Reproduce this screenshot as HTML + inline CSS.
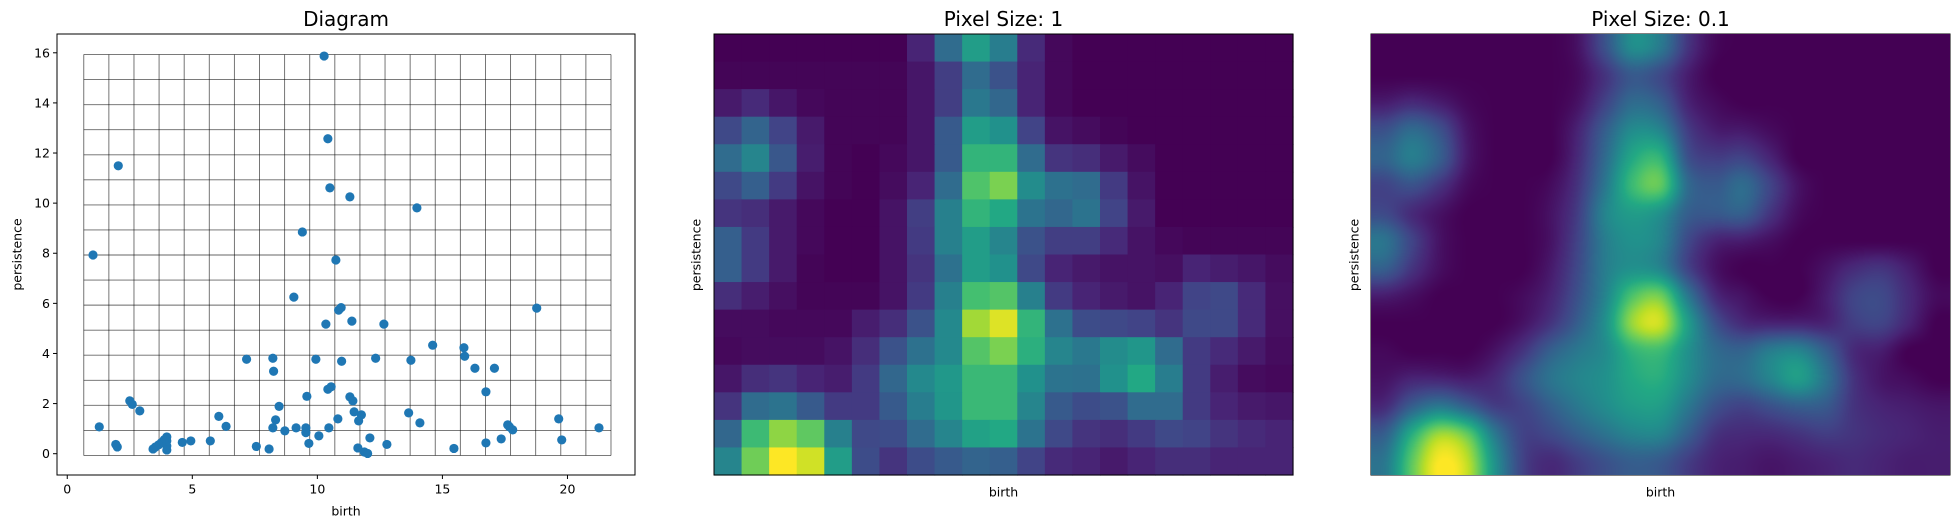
<!DOCTYPE html>
<html><head><meta charset="utf-8">
<style>
html,body{margin:0;padding:0;background:#fff;}
body{width:1952px;height:527px;overflow:hidden;position:relative;font-family:"DejaVu Sans","Liberation Sans",sans-serif;}
svg{position:absolute;left:0;top:0;}
canvas{position:absolute;}
</style></head>
<body>
<svg id="s" width="1952" height="527"></svg>
<canvas id="kde" width="579" height="441" style="left:1371px;top:34px"></canvas>
<script>
// ---- scatter data (birth, persistence) ----
const births = [10.27,10.42,2.04,10.5,11.3,13.98,9.4,1.03,10.74,9.06,10.85,10.95,18.77,10.34,11.38,12.66,14.61,15.86,15.89,7.17,8.22,8.25,9.94,10.97,12.33,13.74,16.3,17.08,16.74,10.42,10.55,9.58,11.3,11.42,2.5,2.6,2.9,8.47,6.06,8.33,10.82,11.47,11.76,11.65,13.65,14.1,19.65,1.28,6.35,8.22,8.7,9.15,9.54,9.54,10.46,10.06,17.61,17.68,17.81,21.26,12.1,17.35,19.77,9.66,12.78,16.74,5.72,4.94,4.6,3.98,3.98,3.98,3.98,3.88,3.76,3.65,3.53,3.43,1.94,2.0,7.56,8.07,11.62,11.88,12.01,15.46];
const persistences = [15.87,12.57,11.49,10.61,10.25,9.81,8.85,7.93,7.73,6.25,5.73,5.83,5.81,5.17,5.29,5.17,4.33,4.23,3.89,3.77,3.81,3.29,3.77,3.69,3.81,3.73,3.41,3.41,2.47,2.57,2.67,2.29,2.27,2.11,2.11,1.97,1.71,1.89,1.49,1.35,1.39,1.67,1.55,1.31,1.63,1.23,1.39,1.07,1.09,1.03,0.91,1.03,1.03,0.84,1.03,0.71,1.15,1.07,0.95,1.03,0.63,0.59,0.55,0.41,0.37,0.43,0.51,0.51,0.45,0.67,0.51,0.31,0.15,0.56,0.44,0.35,0.27,0.19,0.37,0.27,0.29,0.19,0.23,0.07,0.01,0.21];
const xTicks = [0,5,10,15,20];
const yTicks = [0,2,4,6,8,10,12,14,16];
// ---- pixel size 1 image (rows top->bottom, 21 cols) ----
const pixelRows = [
[0,0,0,0,0,0,0,0.1,0.35,0.55,0.42,0.12,0.02,0,0,0,0,0,0,0,0],
[0.01,0.01,0.01,0.01,0.01,0.01,0.01,0.06,0.18,0.35,0.25,0.1,0.02,0,0,0,0,0,0,0,0],
[0.07,0.12,0.06,0.02,0.01,0.01,0.01,0.06,0.18,0.4,0.33,0.1,0.02,0,0,0,0,0,0,0,0],
[0.22,0.32,0.2,0.07,0.01,0.01,0.01,0.06,0.28,0.55,0.5,0.2,0.05,0.03,0.01,0,0,0,0,0,0],
[0.35,0.45,0.27,0.08,0.01,0,0.02,0.06,0.28,0.65,0.65,0.35,0.15,0.13,0.07,0.03,0,0,0,0,0],
[0.22,0.3,0.17,0.05,0.01,0,0.03,0.1,0.35,0.72,0.8,0.48,0.37,0.35,0.17,0.05,0,0,0,0,0],
[0.15,0.13,0.07,0.02,0,0,0.05,0.18,0.43,0.65,0.6,0.38,0.33,0.38,0.2,0.07,0,0,0,0,0],
[0.3,0.17,0.07,0.02,0,0,0.05,0.17,0.43,0.55,0.45,0.25,0.18,0.18,0.12,0.05,0.02,0.01,0.01,0.01,0.01],
[0.3,0.17,0.07,0.01,0,0,0.05,0.15,0.37,0.55,0.5,0.22,0.1,0.07,0.05,0.05,0.04,0.1,0.08,0.06,0.03],
[0.13,0.08,0.04,0.01,0.01,0.01,0.05,0.17,0.43,0.7,0.73,0.43,0.17,0.1,0.07,0.05,0.1,0.2,0.22,0.12,0.04],
[0.03,0.03,0.02,0.02,0.02,0.08,0.13,0.25,0.47,0.86,0.95,0.65,0.37,0.23,0.22,0.2,0.15,0.22,0.22,0.12,0.04],
[0.02,0.03,0.03,0.03,0.05,0.13,0.25,0.37,0.47,0.73,0.8,0.63,0.45,0.4,0.48,0.52,0.35,0.17,0.12,0.07,0.03],
[0.06,0.13,0.15,0.1,0.08,0.17,0.33,0.47,0.53,0.67,0.67,0.5,0.38,0.37,0.5,0.6,0.42,0.17,0.08,0.03,0.02],
[0.15,0.35,0.38,0.28,0.17,0.17,0.28,0.42,0.52,0.67,0.67,0.45,0.28,0.23,0.25,0.35,0.35,0.17,0.1,0.07,0.06],
[0.33,0.68,0.83,0.75,0.43,0.22,0.23,0.35,0.45,0.57,0.6,0.38,0.22,0.15,0.13,0.17,0.22,0.2,0.15,0.12,0.1],
[0.45,0.78,1.0,0.93,0.55,0.23,0.15,0.23,0.28,0.32,0.3,0.2,0.12,0.1,0.07,0.1,0.13,0.13,0.1,0.1,0.1]
];
// ---- pixel size 0.1 image, sampled coarsely (rows top->bottom, 21 cols), smoothed on render ----
const fineRows = [
[0,0,0,0,0,0,0,0.05,0.25,0.48,0.4,0.15,0.02,0,0,0,0,0,0,0,0],
[0,0,0,0,0,0,0,0.03,0.15,0.28,0.22,0.08,0,0,0,0,0,0,0,0,0],
[0.08,0.12,0.08,0.02,0,0,0,0.05,0.2,0.35,0.3,0.1,0.03,0,0,0,0,0,0,0,0],
[0.25,0.35,0.25,0.06,0,0,0,0.1,0.3,0.48,0.45,0.18,0.08,0.07,0.03,0,0,0,0,0,0],
[0.32,0.42,0.3,0.07,0,0,0,0.12,0.35,0.6,0.65,0.25,0.18,0.2,0.1,0,0,0,0,0,0],
[0.2,0.25,0.15,0.03,0,0,0.03,0.15,0.4,0.68,0.75,0.35,0.28,0.35,0.2,0.05,0,0,0,0,0],
[0.22,0.12,0.05,0,0,0,0.05,0.18,0.45,0.55,0.5,0.3,0.28,0.3,0.15,0.03,0,0,0,0,0],
[0.38,0.2,0.05,0,0,0,0.05,0.2,0.42,0.5,0.45,0.22,0.1,0.08,0.04,0,0,0,0,0,0],
[0.3,0.15,0.04,0,0,0,0.07,0.22,0.42,0.5,0.45,0.2,0.05,0,0,0,0.05,0.12,0.15,0.08,0],
[0.08,0.04,0,0,0,0.03,0.1,0.25,0.45,0.72,0.78,0.4,0.12,0.05,0,0,0.08,0.2,0.22,0.12,0.03],
[0,0,0,0,0,0.05,0.15,0.3,0.5,0.85,0.92,0.55,0.25,0.12,0.1,0.1,0.1,0.18,0.2,0.1,0],
[0.02,0,0,0,0.05,0.15,0.3,0.4,0.48,0.65,0.68,0.5,0.35,0.32,0.42,0.45,0.3,0.12,0.08,0,0],
[0.05,0.1,0.1,0.08,0.12,0.25,0.38,0.45,0.5,0.6,0.62,0.48,0.35,0.35,0.45,0.55,0.38,0.15,0.06,0.03,0],
[0.12,0.3,0.4,0.3,0.18,0.2,0.3,0.4,0.48,0.55,0.55,0.4,0.25,0.2,0.25,0.3,0.28,0.15,0.1,0.08,0.06],
[0.3,0.62,0.85,0.75,0.4,0.2,0.22,0.3,0.38,0.45,0.45,0.3,0.15,0.12,0.12,0.15,0.18,0.15,0.12,0.1,0.08],
[0.4,0.75,1.0,0.9,0.5,0.2,0.12,0.18,0.25,0.3,0.28,0.18,0.1,0.08,0.06,0.08,0.1,0.12,0.1,0.08,0.08]
];

const VIR=[[68,1,84],[72,36,117],[65,68,135],[53,95,141],[42,120,142],[33,145,140],[34,168,132],[68,191,112],[122,209,81],[189,223,38],[253,231,37]];
function vir(t){t=Math.max(0,Math.min(1,t))*10;const i=Math.min(9,Math.floor(t)),f=t-i;const a=VIR[i],b=VIR[i+1];return [a[0]+(b[0]-a[0])*f,a[1]+(b[1]-a[1])*f,a[2]+(b[2]-a[2])*f];}
function rgb(c){return 'rgb('+c.map(Math.round).join(',')+')';}

const svg=document.getElementById('s');const NS='http://www.w3.org/2000/svg';
function mk(tag,attrs,parent){const e=document.createElementNS(NS,tag);for(const k in attrs)e.setAttribute(k,attrs[k]);(parent||svg).appendChild(e);return e;}
function txt(x,y,s,size,anchor,extra){const t=mk('text',Object.assign({x:x,y:y,'font-size':size,'text-anchor':anchor||'middle','dominant-baseline':'central',fill:'#000','font-family':'DejaVu Sans, Liberation Sans, sans-serif'},extra||{}));t.textContent=s;return t;}

// ---- left panel axes ----
const L={x0:57,x1:635,y0:34,y1:475,xmin:-0.41,xmax:22.7,ymin:-0.85,ymax:16.75};
function sx(v){return L.x0+(v-L.xmin)/(L.xmax-L.xmin)*(L.x1-L.x0);}
function sy(v){return L.y1-(v-L.ymin)/(L.ymax-L.ymin)*(L.y1-L.y0);}
const gl=mk('g',{});


const gx0=0.66,gx1=21.74,gy0=-0.07,gy1=15.93;
for(let k=0;k<=21;k++){const v=gx0+(gx1-gx0)*k/21;mk('line',{x1:sx(v),x2:sx(v),y1:sy(gy0),y2:sy(gy1),stroke:'#000','stroke-opacity':0.6,'stroke-width':0.9},gl);}
for(let k=0;k<=16;k++){const v=gy0+(gy1-gy0)*k/16;mk('line',{x1:sx(gx0),x2:sx(gx1),y1:sy(v),y2:sy(v),stroke:'#000','stroke-opacity':0.6,'stroke-width':0.9},gl);}
const pts=mk('g',{});


for(let i=0;i<births.length;i++){const c=mk('circle',{cx:sx(births[i]),cy:sy(persistences[i]),r:4.6,fill:'#1f77b4'},pts);

}
const fr=mk('rect',{x:L.x0,y:L.y0,width:L.x1-L.x0,height:L.y1-L.y0,fill:'none',stroke:'#000','stroke-width':1});


xTicks.forEach(v=>{mk('line',{x1:sx(v),x2:sx(v),y1:L.y1,y2:L.y1+4,stroke:'#000'});const t=txt(sx(v),L.y1+14,String(v),12.5);

});
yTicks.forEach(v=>{mk('line',{x1:L.x0-4,x2:L.x0,y1:sy(v),y2:sy(v),stroke:'#000'});const t=txt(L.x0-7,sy(v),String(v),12.5,'end');

});
let t;
t=txt((L.x0+L.x1)/2,19,'Diagram',20);


t=txt((L.x0+L.x1)/2,511,'birth',12.5);


t=txt(17,(L.y0+L.y1)/2,'persistence',12.5,'middle',{transform:'rotate(-90 17 '+((L.y0+L.y1)/2)+')'});



// ---- middle panel ----
const M={x0:714,x1:1293,y0:34,y1:475};
const cols=pixelRows[0].length,rows=pixelRows.length;
const cw=(M.x1-M.x0)/cols,ch=(M.y1-M.y0)/rows;
const hm=mk('g',{});


for(let r=0;r<rows;r++)for(let c=0;c<cols;c++){const e=mk('rect',{x:M.x0+c*cw,y:M.y0+r*ch,width:cw+0.6,height:ch+0.6,fill:rgb(vir(pixelRows[r][c]))},hm);

}
mk('rect',{x:M.x0,y:M.y0,width:M.x1-M.x0,height:M.y1-M.y0,fill:'none',stroke:'#000','stroke-width':1});
t=txt((M.x0+M.x1)/2,19,'Pixel Size: 1',20);


t=txt((M.x0+M.x1)/2,492,'birth',12.5);


t=txt(696,255,'persistence',12.5,'middle',{transform:'rotate(-90 696 255)'});



// ---- right panel ----
const R={x0:1371,x1:1950,y0:34,y1:475};
t=txt((R.x0+R.x1)/2,19,'Pixel Size: 0.1',20);


t=txt((R.x0+R.x1)/2,492,'birth',12.5);


t=txt(1354,255,'persistence',12.5,'middle',{transform:'rotate(-90 1354 255)'});


mk('rect',{x:R.x0,y:R.y0,width:R.x1-R.x0,height:R.y1-R.y0,fill:'none',stroke:'#000','stroke-width':1});

(function(){
 const cv=document.getElementById('kde');const W=cv.width,H=cv.height;const ctx=cv.getContext('2d');
 const nr=fineRows.length,nc=fineRows[0].length;
 function g(r,c){r=Math.max(0,Math.min(nr-1,r));c=Math.max(0,Math.min(nc-1,c));return fineRows[r][c];}
 function cr(p0,p1,p2,p3,t){return 0.5*((2*p1)+(-p0+p2)*t+(2*p0-5*p1+4*p2-p3)*t*t+(-p0+3*p1-3*p2+p3)*t*t*t);}
 const img=ctx.createImageData(W,H);
 for(let j=0;j<H;j++){const fy=(j+0.5)/H*nr-0.5;const r=Math.floor(fy),ty=fy-r;
  for(let i=0;i<W;i++){const fx=(i+0.5)/W*nc-0.5;const c=Math.floor(fx),tx=fx-c;
   const rowv=[];for(let k=-1;k<=2;k++)rowv.push(cr(g(r+k,c-1),g(r+k,c),g(r+k,c+1),g(r+k,c+2),tx));
   const v=cr(rowv[0],rowv[1],rowv[2],rowv[3],ty);
   const col=vir(v);const p=(j*W+i)*4;img.data[p]=col[0];img.data[p+1]=col[1];img.data[p+2]=col[2];img.data[p+3]=255;}}
 ctx.putImageData(img,0,0);
})();
</script>
</body></html>
